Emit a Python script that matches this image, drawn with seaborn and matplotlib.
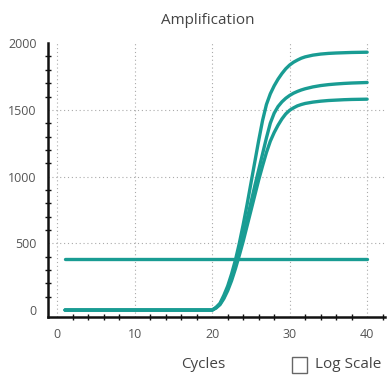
import matplotlib
matplotlib.use("Agg")
import matplotlib.pyplot as plt
from matplotlib.patches import Rectangle
from matplotlib.ticker import MultipleLocator
import pandas as pd
import seaborn as sns

sns.set_theme(style="white")
plt.rcParams["font.family"] = ["Open Sans", "DejaVu Sans"]

# cycles 1..19, half cycles 20..32 across the rise, then 33..40
cycles = list(range(1, 20)) + [20 + 0.5 * i for i in range(25)] + list(range(33, 41))
flat = [0] * 19
curve_a = flat + [0, 20, 50, 110, 180, 270, 375, 500, 640, 790, 950, 1110, 1270,
                  1420, 1540, 1620, 1680, 1730, 1772, 1808, 1836, 1857, 1873, 1887, 1897] + \
          [1910, 1918, 1923, 1926, 1928, 1930, 1931, 1932]
curve_b = flat + [0, 18, 45, 95, 160, 240, 335, 440, 555, 680, 805, 930, 1050,
                  1170, 1290, 1400, 1475, 1525, 1560, 1587, 1608, 1625, 1638, 1649, 1658] + \
          [1672, 1682, 1689, 1694, 1698, 1701, 1703, 1705]
curve_c = flat + [0, 15, 40, 85, 145, 220, 310, 410, 515, 630, 745, 860, 975,
                  1080, 1180, 1265, 1330, 1385, 1432, 1470, 1497, 1515, 1530, 1540, 1548] + \
          [1558, 1565, 1570, 1573, 1576, 1578, 1579, 1580]
threshold = [380] * len(cycles)

x_grid = [0, 10, 20, 30, 40]
y_grid = [500, 1000, 1500]

teal = "#199c93"
n = len(cycles)
frame = pd.DataFrame({
    "cycle": cycles * 4,
    "rfu": curve_a + curve_b + curve_c + threshold,
    "well": ["A"] * n + ["B"] * n + ["C"] * n + ["thr"] * n,
})

fig = plt.figure(figsize=(3.92, 3.75), dpi=100)
ax = fig.add_axes([0.1224, 0.1547, 0.8596, 0.7303])
for x in x_grid:
    ax.axvline(x, color="#aaaaaa", linestyle=(0, (1, 2.5)), linewidth=0.8, zorder=0)
for y in y_grid:
    ax.axhline(y, color="#aaaaaa", linestyle=(0, (1, 2.5)), linewidth=0.8, zorder=0)
sns.lineplot(data=frame, x="cycle", y="rfu", hue="well",
             palette=[teal] * 4, linewidth=2.4, legend=False, ax=ax)

ax.set_xlim(-1.2, 42.3)
ax.set_ylim(-52, 2000)
ax.xaxis.set_major_locator(MultipleLocator(10))
ax.xaxis.set_minor_locator(MultipleLocator(2))
ax.yaxis.set_major_locator(MultipleLocator(500))
ax.yaxis.set_minor_locator(MultipleLocator(100))
ax.grid(False)

for side in ("top", "right"):
    ax.spines[side].set_visible(False)
for side in ("left", "bottom"):
    ax.spines[side].set_color("#111111")
    ax.spines[side].set_linewidth(1.8)

ax.tick_params(which="major", direction="inout", length=8, width=1.8,
               color="#111111", labelsize=9, labelcolor="#555555", pad=4)
ax.tick_params(which="minor", direction="inout", length=5, width=1,
               color="#111111", left=True, bottom=True)
ax.set_xlabel("")
ax.set_ylabel("")

fig.text(0.53, 0.945, "Amplification", ha="center", va="center",
         fontsize=11, color="#444444")
fig.text(0.518, 0.027, "Cycles", ha="center", va="center",
         fontsize=11, color="#444444")
fig.patches.append(Rectangle((292 / 392, 2 / 375), 15 / 392, 16 / 375,
                             transform=fig.transFigure, fill=False,
                             edgecolor="#666666", linewidth=1))
fig.text(315 / 392, 0.027, "Log Scale", ha="left", va="center",
         fontsize=11, color="#444444")

fig.savefig("out.png", dpi=100)
